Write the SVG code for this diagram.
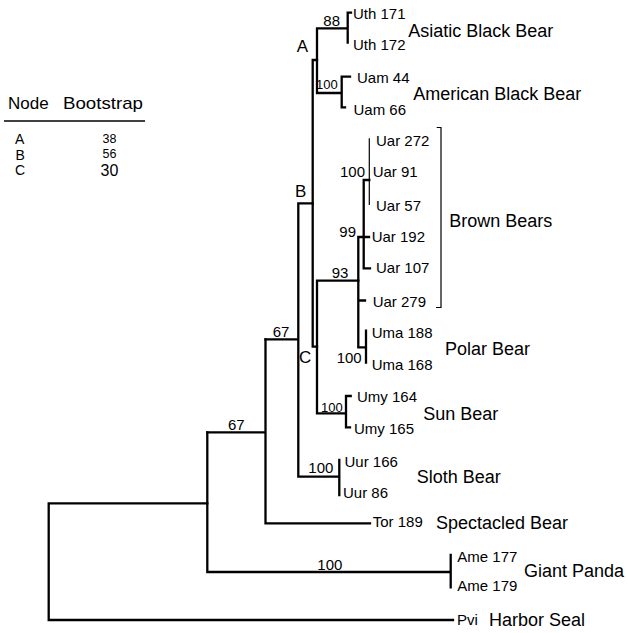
<svg xmlns="http://www.w3.org/2000/svg" width="628" height="633" viewBox="0 0 628 633">
<style>
text{font-family:"Liberation Sans",Arial,Helvetica,sans-serif;fill:#000}
.tip{font-size:15px}
.grp{font-size:18px}
.bs{font-size:15px}
.bss{font-size:13px}
.nd{font-size:17px}
.lh{font-size:17px}
.ll{font-size:14px}
.ln{font-size:12.5px}
.big{font-size:16px}
.e{stroke:#000;stroke-width:2.3;fill:none;stroke-linecap:square}
.t{stroke:#000;stroke-width:1.2;fill:none}
</style>
<rect width="628" height="633" fill="#fff"/>
<g id="legend">
<text class="lh" x="8" y="109">Node</text>
<text class="lh" x="63" y="109" textLength="80" lengthAdjust="spacingAndGlyphs">Bootstrap</text>
<line x1="4" y1="121" x2="145" y2="121" stroke="#000" stroke-width="1.6"/>
<text class="ll" x="15" y="144">A</text>
<text class="ln" x="102.5" y="142.5">38</text>
<text class="ll" x="15.5" y="159.7">B</text>
<text class="ln" x="102.5" y="157.5">56</text>
<text class="ll" x="15" y="175.4">C</text>
<text class="big" x="100.5" y="175.6">30</text>
</g>
<g id="connectors">
<path class="e" d="M207.3,503.3 H48.7 V620 H453"/>
<path class="e" d="M207.3,432.3 V572 H450.7 M450.7,555 V587.3"/>
<path class="e" d="M207.3,432.3 H265.5 M265.5,339.3 V523.3 H370"/>
<path class="e" d="M265.5,339.3 H298.3 M298.3,203.3 V476.7 H339.3 M339.3,460 V495 M298.3,203.3 H312.7"/>
<path class="e" d="M312.7,60 V346.7 M312.7,60 H317 M312.7,346.7 H317"/>
<path class="e" d="M317,28.3 V93 M317,28.3 H347.7 M347.7,12.7 V42.7 M347.7,12.7 H351 M317,93 H341.7 M341.7,76.7 V107.3 M341.7,76.7 H350 M341.7,107.3 H345"/>
<path class="e" d="M317,280.7 V413.3 M317,280.7 H358.3 M317,413.3 H346 M346,396 V427.3 M346,396 H350.7 M346,427.3 H350"/>
<path class="e" d="M358.3,237 V347.3 H366 M366,330.7 V362.7 M358.3,300.5 H365 M358.3,237 H369"/>
<path class="e" d="M363.7,180 V268.3 H370 M363.7,180 H369.3"/>
<path class="t" d="M369.3,138.3 V205"/>
<path class="t" d="M436.7,127.5 H441 V307.5 H436"/>
</g>
<g id="node-A"><text class="nd" x="296.7" y="51.7">A</text><text class="bs" x="323.3" y="25.7">88</text></g>
<g id="node-americanblack"><text class="bss" x="316" y="89.3">100</text></g>
<g id="node-B"><text class="nd" x="295" y="196.7">B</text></g>
<g id="node-C"><text class="nd" x="299" y="363">C</text></g>
<g id="node-brown100"><text class="bs" x="340" y="176.7">100</text></g>
<g id="node-99"><text class="bs" x="339.3" y="236.5">99</text></g>
<g id="node-93"><text class="bs" x="331.7" y="278.3">93</text></g>
<g id="node-polar100"><text class="bs" x="336.7" y="363">100</text></g>
<g id="node-sun100"><text class="bss" x="321" y="411.7">100</text></g>
<g id="node-sloth100"><text class="bs" x="308.3" y="473.3">100</text></g>
<g id="node-67a"><text class="bs" x="272.7" y="336.7">67</text></g>
<g id="node-67b"><text class="bs" x="228" y="430">67</text></g>
<g id="node-panda100"><text class="bs" x="317.3" y="570">100</text></g>
<g id="asiatic-black-bear">
<text class="tip" x="353" y="18.5">Uth 171</text>
<text class="tip" x="353" y="50">Uth 172</text>
<text class="grp" x="408.3" y="36.7">Asiatic Black Bear</text>
</g>
<g id="american-black-bear">
<text class="tip" x="357" y="82.7">Uam 44</text>
<text class="tip" x="353.5" y="115">Uam 66</text>
<text class="grp" x="413.3" y="100">American Black Bear</text>
</g>
<g id="brown-bears">
<text class="tip" x="376" y="146">Uar 272</text>
<text class="tip" x="372.7" y="177.3">Uar 91</text>
<text class="tip" x="376" y="210.7">Uar 57</text>
<text class="tip" x="371.7" y="241.7">Uar 192</text>
<text class="tip" x="376" y="273.3">Uar 107</text>
<text class="tip" x="372.7" y="306.7">Uar 279</text>
<text class="grp" x="449.3" y="227">Brown Bears</text>
</g>
<g id="polar-bear">
<text class="tip" x="371.7" y="338.3">Uma 188</text>
<text class="tip" x="371.7" y="370">Uma 168</text>
<text class="grp" x="445" y="355">Polar Bear</text>
</g>
<g id="sun-bear">
<text class="tip" x="357" y="402">Umy 164</text>
<text class="tip" x="354" y="434">Umy 165</text>
<text class="grp" x="423.3" y="420">Sun Bear</text>
</g>
<g id="sloth-bear">
<text class="tip" x="344.5" y="467">Uur 166</text>
<text class="tip" x="343" y="498">Uur 86</text>
<text class="grp" x="416.7" y="483.3">Sloth Bear</text>
</g>
<g id="spectacled-bear">
<text class="tip" x="372.7" y="527">Tor 189</text>
<text class="grp" x="436" y="528.5">Spectacled Bear</text>
</g>
<g id="giant-panda">
<text class="tip" x="457.3" y="561.7">Ame 177</text>
<text class="tip" x="457.3" y="590.7">Ame 179</text>
<text class="grp" x="524" y="577.3">Giant Panda</text>
</g>
<g id="harbor-seal">
<text class="tip" x="457" y="625">Pvi</text>
<text class="grp" x="489" y="626">Harbor Seal</text>
</g>
</svg>
